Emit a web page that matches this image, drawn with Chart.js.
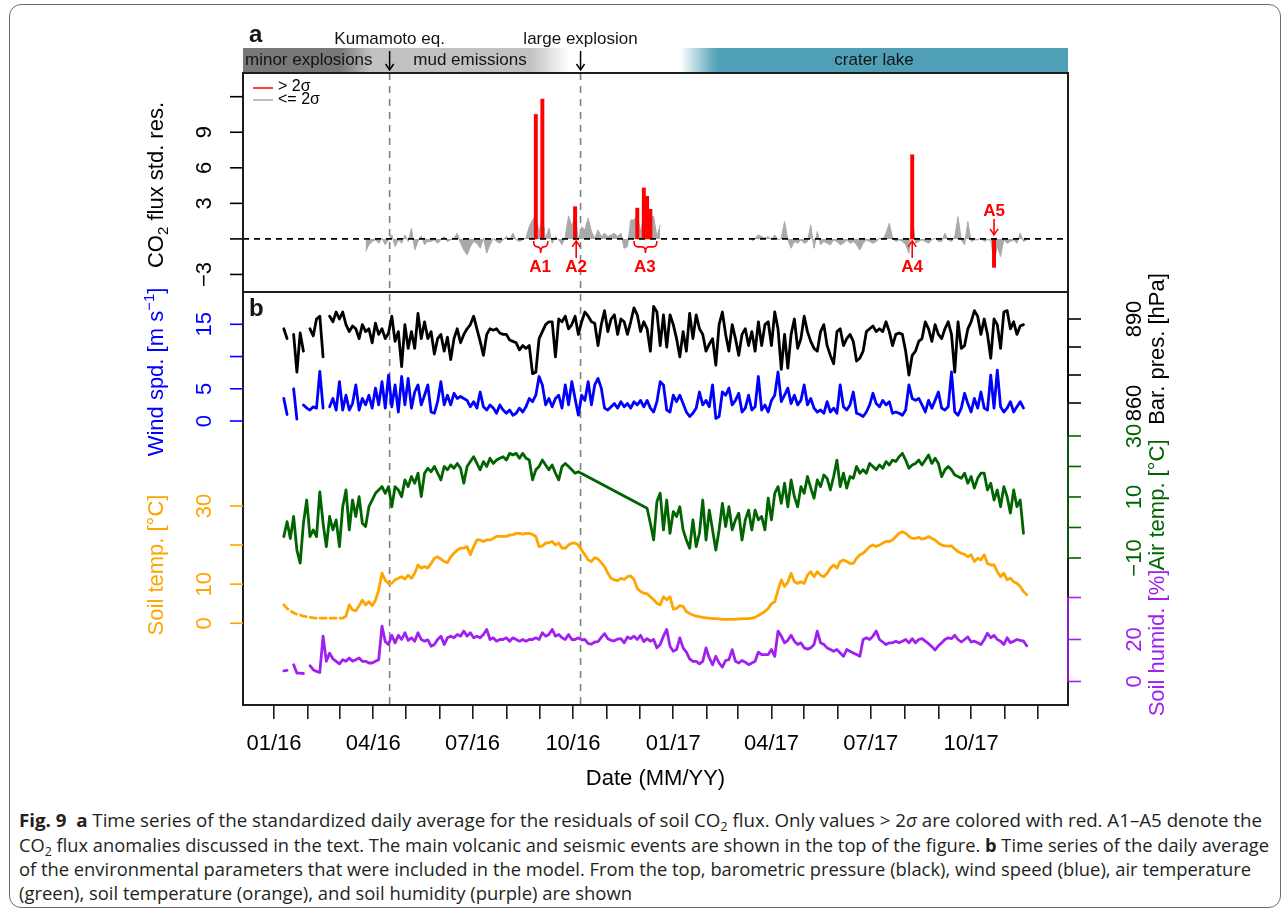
<!DOCTYPE html>
<html>
<head>
<meta charset="utf-8">
<script src="https://cdn.jsdelivr.net/npm/chart.js@4.4.1/dist/chart.umd.min.js"></script>
<style>
  html, body { margin: 0; padding: 0; background: #fff; }
  body { width: 1284px; height: 915px; position: relative; overflow: hidden; }
  #frame { position: absolute; left: 9px; top: 4px; width: 1272px; height: 904px; border: 1.3px solid #6e6e6e; border-radius: 12px; box-sizing: border-box; }
  #chart { position: absolute; left: 0; top: 0; }
  .cap { position: absolute; left: 19px; font-family: 'Open Sans', 'Noto Sans', sans-serif; font-size: 17.5px; color: #231f20; white-space: nowrap; transform-origin: 0 0; line-height: 1; }
  .cap b { font-weight: 700; }
  .cap sub { font-size: 0.68em; vertical-align: -0.3em; line-height: 0; }
</style>
</head>
<body>
<div id="frame"></div>
<canvas id="chart" width="1284" height="800"></canvas>
<div class="cap" data-w="1243" style="top:812px"><b>Fig. 9</b>&nbsp; <b>a</b> Time series of the standardized daily average for the residuals of soil CO<sub>2</sub> flux. Only values &gt; 2<i>σ</i> are colored with red. A1–A5 denote the</div>
<div class="cap" data-w="1250" style="top:837px">CO<sub>2</sub> flux anomalies discussed in the text. The main volcanic and seismic events are shown in the top of the figure. <b>b</b> Time series of the daily average</div>
<div class="cap" data-w="1232" style="top:861px">of the environmental parameters that were included in the model. From the top, barometric pressure (black), wind speed (blue), air temperature</div>
<div class="cap" data-w="613" style="top:885px">(green), soil temperature (orange), and soil humidity (purple) are shown</div>
<script>
// x values are days since 2016-01-01, one sample every STEP days
const STEP = 3;

const monthTicks = [0, 31, 60, 91, 121, 152, 182, 213, 244, 274, 305, 335, 366, 397, 425, 456, 486, 517, 547, 578, 609, 639, 670, 700];
const monthLabels = ['01/16', '', '', '04/16', '', '', '07/16', '', '', '10/16', '', '', '01/17', '', '', '04/17', '', '', '07/17', '', '', '10/17', '', ''];

const kumamotoDay = 106;   // 2016-04-16
const explosionDay = 281;  // 2016-10-08
const phaseDays = [61, 88, 235, 270];  // minor explosions -> mud emissions -> fade out
const lakeDays = [372, 406];           // crater lake fades in

// standardized residuals of soil CO2 flux
const co2Start = 84;
const co2Res = [
  -1.07, -0.5, -0.22, -0.08, -0.37, 0.06, -0.5, -0.08, 0.34, -0.65,
  -0.08, -0.37, 0.34, -0.22, 0.9, -0.93, -0.22, 0.25, -0.5, -0.22,
  -0.22, -0.08, -0.37, -0.08, 0.2, -0.22, -0.08, 0.06, 0.48, -0.37,
  -0.93, -1.35, -0.65, -0.22, -0.37, -0.79, 0.06, -1.2, -0.5, 0.06,
  -0.22, -0.37, -0.08, 0.2, -0.08, 0.48, -0.08, -0.22, -0.08, 0.06,
  1.04, 1.6, 10.5, 0.5, 11.8, -0.08, 0.9, -0.37, 0.2, -0.08,
  -0.5, 0.2, 1.95, 1.04, 2.72, -0.08, 1.04, 0.76, 1.74, 0.62,
  0.06, 0.76, 0.2, 0.48, 0.2, 0.34, 0.48, 0.2, 0.48, -0.79,
  -0.65, 1.6, 1.6, 2.6, 0.62, 4.3, 3.6, 2.5, 1.88, 0.2,
  1.18,
  null, null, null, null, null, null, null, null, null, null,
  null, null, null, null, null, null, null, null, null, null,
  null, null, null, null, null, null, null,
  -0.22, 0.06, 0.34, 0.2, 0.06, 0.2, -0.08, 0.34, -0.08, 0.06,
  1.46, -0.08, -0.79, -0.22, -0.37, -0.08, -0.37, -0.22, 1.18, -0.79,
  0.62, -0.5, -0.22, -0.37, -0.5, -0.08, -0.22, -0.5, -0.37, -0.08,
  -0.37, -0.22, -0.5, -0.93, -0.37, -0.08, -0.22, -0.37, -0.22, 0.06,
  -0.08, 0.48, 1.32, 0.06, -0.22, -0.08, -0.22, -0.5, -1.2, 7.1,
  -0.37, -0.22, -0.08, -0.22, -0.37, -0.08, 0.06, -0.22, -0.22, 0.48,
  -0.08, -0.22, 0.2, 1.88, -0.08, -0.5, 1.46, -0.22, -0.08, -0.08,
  0.06, -0.22, -0.08, -0.08, -2.4, -0.65, -1.49, -0.08, -0.37, -0.22,
  -0.08, -0.37, 0.48, -0.22, -0.08
];
const SIGMA2 = 2;

// barometric pressure [hPa]
const presStart = 9;
const presVals = [
  886.5, 883, null, 884.5, 871, 885, 878.5, null, 886.5, 884, 890, 891, 876.5, null,
  891, 889, 892.5, 890, 892.5, 888, 885.5, 887.5, 886.5, 883,
  888, 885.5, 886.5, 881.5, 888.5, 884.5, 886.5, 883, 885, 891,
  882, 885.5, 873, 888, 879.5, 885.5, 879.5, 892, 883, 889,
  883, 885.5, 877.5, 883, 884.5, 878.5, 883.5, 875.5, 883, 886.5,
  881.5, 884.5, 886.5, 888, 891, 886.5, 882, 877, 884.5, 886.5,
  886, 886.5, 885, 884.5, 884.5, 882.5, 882, 881.5, 879, 880.5,
  879.5, 880.5, 870.5, 871, 883, 885.5, 888, 889, 889, 876.5,
  890, 889, 891, 886.5, 888, 891,
  884.5, 889, 892.5, 891, 889, 888.5, 880.5, 888, 893, 885.5,
  890, 891.5, 884.5, 890, 889, 884.5, 889, 894, 891.5, 885.5,
  889, 886.5, 878.5, 894.5, 892.5, 880.5, 891.5, 880, 891.5, 888,
  883, 876.5, 885.5, 878.5, 892, 883, 891.5, 886.5, 884.5, 878.5, 881,
  883, 873.5, 888, 892.5, 884.5, 878.5, 888, 883, 877, 884.5,
  886.5, 880.5, 885.5, 878.5, 889, 880.5, 888, 889, 880.5, 892.5,
  886.5, 872, 884.5, 872.5, 884.5, 890, 879.5, 883, 891, 885.5,
  882, 879.5, 878.5, 885.5, 888, 880.5, 877, 874, 885.5, 886.5,
  880.5, 883, 884.5, 882, 875, 876, 878.5, 885.5, 886.5, 887.5, 885.5,
  886.5, 885.5, 889, 885.5, 880.5, 884.5, 885, 884.5, 878.5, 870,
  877, 878.5, 882, 883, 889, 886.5, 882, 888, 884.5, 883,
  886.5, 889, 884.5, 871, 889, 879.5, 880.5, 886.5, 889, 893,
  891, 884.5, 890, 884.5, 876, 890, 888, 879.5, 892.5, 893,
  886.5, 889, 884.5, 887.5, 888
];

// wind speed [m/s]
const windStart = 9;
const windVals = [
  3.5, 1.0, null, 5.0, 0.3, null, 2.5, 2.0, 1.7, 2.2, 2.0, 7.7, 2.0, null,
  2.2, 3.5, 1.7, 6.1, 1.7, 4.0, 1.7, 2.7, 5.6, 1.7,
  3.5, 2.5, 4.0, 2.0, 5.1, 2.5, 6.1, 2.0, 7.1, 2.2,
  5.6, 1.4, 6.9, 2.5, 6.6, 2.0, 4.5, 5.6, 2.5, 4.0,
  5.6, 1.4, 1.2, 3.0, 6.1, 2.5, 4.0, 2.5, 4.3, 3.5,
  3.8, 3.5, 3.2, 2.2, 3.0, 2.0, 4.5, 2.2, 1.7, 2.5,
  2.0, 1.2, 2.5, 1.7, 1.2, 1.7, 0.9, 1.2, 2.0, 1.4,
  2.2, 3.5, 3.0, 4.0, 6.9, 5.6, 2.5, 3.5, 2.2, 3.5,
  4.0, 2.0, 5.6, 2.5, 6.1, 3.5,
  0.9, 4.0, 3.2, 6.1, 2.5, 5.6, 6.6, 5.1, 2.0, 1.7,
  2.2, 2.7, 2.0, 3.0, 2.2, 2.7, 2.0, 3.0, 2.5, 3.2,
  2.2, 3.2, 2.0, 1.4, 3.0, 6.1, 5.6, 1.7, 1.4, 4.0,
  3.0, 4.0, 2.7, 1.4, 0.7, 1.2, 2.0, 4.5, 2.5, 3.2, 2.2,
  5.6, 0.4, 0.7, 4.5, 4.0, 5.1, 2.5, 3.2, 4.3, 1.4,
  2.0, 4.0, 1.7, 2.2, 6.9, 1.7, 2.5, 1.4, 3.2, 4.0,
  7.6, 3.0, 4.0, 5.1, 2.7, 4.0, 2.5, 3.2, 5.6, 2.5,
  3.5, 2.0, 1.4, 1.7, 1.2, 3.0, 1.4, 2.0, 1.2, 5.6,
  2.2, 1.7, 2.5, 4.5, 1.2, 1.0, 0.7, 1.4, 2.5, 4.3, 2.7,
  2.2, 3.2, 2.5, 3.0, 1.2, 1.4, 1.2, 0.9, 1.7, 5.6,
  3.5, 3.2, 3.5, 2.5, 1.4, 3.2, 2.0, 3.2, 4.5, 2.0,
  1.7, 2.2, 7.6, 1.4, 0.9, 2.0, 4.3, 2.7, 1.4, 3.5,
  2.0, 4.5, 2.0, 1.7, 7.1, 2.0, 7.9, 2.2, 1.4, 2.0,
  3.0, 1.4, 2.2, 3.0, 2.0
];

// air temperature [°C]; no record between Oct and Dec 2016
const airStart = 9;
const airVals = [
  -3.0, 1.9, -3.6, 3.6, -7.4, -11.7, 1.4, 9.0, -3.0, -0.8,
  -3.0, 11.7, 1.4, -6.3, 3.6, -0.8, 2.5, -6.3, 6.8, 12.3,
  -0.8, 9.0, 3.6, 10.1, 1.4, 0.3, 6.8, 9.0, 11.2, 12.3,
  13.4, 11.2, 13.4, 6.8, 13.4, 12.3, 10.1, 15.6, 13.4, 16.7,
  14.5, 17.8, 10.1, 17.8, 19.4, 18.3, 20.0, 17.8, 15.6, 20.0,
  18.9, 20.5, 19.4, 21.0, 19.4, 14.5, 20.0, 21.6, 23.2, 21.0,
  18.9, 21.6, 20.0, 22.7, 21.0, 22.1, 22.7, 23.2, 22.1, 24.3,
  23.8, 24.3, 22.7, 24.3, 22.7, 22.1, 15.6, 18.9, 20.0, 22.1,
  20.5, 18.9, 20.5, 17.8, 15.6, 20.0, 21.0, 20.0, 18.9, 17.8,
  18.3,
  null, null, null, null, null, null, null, null, null, null,
  null, null, null, null, null, null, null, null, null, null,
  6.3, 1.4, -4.1, 8.5, 11.2, -0.8, 9.0, -1.9, 5.2, 3.6,
  6.8, -0.8, -4.1, -6.8, 2.5, -6.3, -1.9, 9.0, -4.1, 5.7,
  -0.8, -7.4, -0.8, 7.9, 0.3, 6.8, -0.8, 2.5, 4.7, -4.1,
  2.5, 5.7, -0.8, 5.7, 2.5, 3.6, -0.8, 9.6, 2.5, 11.2,
  13.4, 7.9, 14.5, 6.8, 15.6, 10.1, 6.8, 13.4, 11.2, 16.7, 13.0,
  9.6, 15.6, 13.4, 17.2, 16.1, 12.3, 16.7, 22.1, 13.4, 17.8,
  12.9, 16.7, 16.1, 20.0, 17.8, 18.9, 17.8, 21.0, 20.0, 18.9,
  20.5, 19.4, 21.6, 20.5, 22.1, 21.6, 23.2, 24.3, 22.1, 19.4, 20.5,
  21.0, 22.1, 20.5, 22.1, 23.8, 21.0, 22.7, 21.0, 16.7, 18.9,
  20.0, 18.9, 17.2, 16.7, 16.1, 17.8, 14.5, 16.7, 12.9, 16.1,
  17.8, 17.8, 12.3, 14.5, 9.0, 12.3, 6.8, 13.4, 10.1, 4.7,
  12.3, 6.8, 9.0, -1.9
];

// soil temperature [°C]
const soilStart = 9;
const soilVals = [
  4.7, 3.8, 3.2, 2.7, 2.3, 2.1, 1.8, 1.7, 1.5, 1.4,
  1.3, 1.3, 1.3, 1.3, 1.3, 1.3, 1.3, 1.3, 1.3, 1.8,
  4.7, 3.4, 3.2, 4.5, 5.9, 4.7, 5.5, 4.5, 5.9, 8.5,
  12.8, 11.0, 10.2, 10.2, 11.1, 11.5, 11.9, 11.3, 12.3, 11.5,
  12.8, 14.9, 14.1, 14.5, 14.1, 15.3, 16.6, 17.0, 16.4, 15.8,
  15.5, 17.0, 17.9, 18.7, 19.2, 19.2, 19.6, 17.5, 19.6, 21.3,
  21.3, 20.9, 21.3, 21.3, 21.7, 22.2, 22.2, 22.2, 22.2, 22.6,
  22.6, 23.0, 23.0, 22.8, 23.0, 23.0, 22.7, 22.2, 19.6, 19.8,
  20.5, 20.6, 20.9, 20.0, 20.5, 19.2, 19.2, 20.0, 20.5, 20.5,
  20.0,
  18.7, 17.5, 16.2, 15.8, 16.8, 16.4, 15.5, 14.5, 12.8, 11.5,
  11.1, 10.9, 11.5, 11.2, 11.9, 12.1, 11.2, 8.9, 8.1, 7.7,
  7.5, 6.8, 6.0, 5.1, 4.7, 6.8, 6.0, 6.8, 3.6, 3.8,
  4.5, 4.3, 3.0, 2.5, 2.1, 1.8, 1.7, 1.5, 1.4, 1.3,
  1.2, 1.2, 1.1, 1.0, 1.0, 1.0, 1.0, 1.0, 1.1, 1.1,
  1.2, 1.2, 1.3, 1.5, 2.0, 2.5, 3.0, 3.8, 5.0, 5.5,
  8.5, 11.1, 9.4, 10.5, 12.8, 10.6, 10.2, 10.6, 10.2, 12.3,
  13.2, 11.9, 13.2, 12.3, 11.9, 12.8, 14.1, 14.9, 14.1, 15.8,
  16.2, 15.8, 15.3, 15.3, 16.6, 17.5, 17.9, 18.7, 19.6, 20.0,
  19.6, 20.0, 20.5, 20.9, 20.9, 21.3, 22.2, 23.0, 23.4, 23.0,
  22.2, 21.7, 21.7, 22.0, 21.5, 21.7, 22.2, 21.7, 21.3, 20.5,
  20.0, 19.8, 19.7, 19.8, 19.0, 18.3, 17.9, 17.6, 17.0, 17.5,
  15.8, 16.6, 16.2, 17.5, 15.3, 14.9, 14.9, 13.2, 11.9, 12.8,
  11.1, 11.5, 10.6, 10.2, 9.4, 8.1, 7.3
];

// soil humidity [%]
const humStart = 9;
const humVals = [
  5.1, 5.3, null, 8.0, 4.0, 4.0, 3.8, null, 7.5, 5.6,
  4.8, 4.3, 21.6, 9.6, 13.5, 10.8, 9.6, 8.4, 10.4, 9.6,
  11.2, 9.6, 10.4, 11.2, 9.6, 9.6, 8.8, 8.8, 9.6, 10.4,
  26.4, 19.0, 17.6, 22.0, 18.4, 22.0, 20.0, 23.2, 19.6, 20.8,
  19.2, 23.2, 20.0, 19.2, 19.8, 16.8, 17.6, 20.0, 21.6, 17.6,
  20.8, 21.6, 20.8, 22.4, 21.6, 24.0, 21.6, 23.2, 20.8, 21.6,
  20.8, 22.4, 24.8, 20.0, 20.8, 19.2, 20.0, 20.0, 20.8, 19.2,
  20.8, 20.0, 19.2, 20.0, 19.2, 20.0, 20.0, 20.8, 20.0, 23.2,
  21.6, 22.4, 24.8, 21.6, 22.4, 20.8, 20.0, 22.4, 20.0, 20.0,
  20.8,
  19.8, 20.0, 18.0, 17.8, 18.8, 19.0, 21.0, 22.8, 20.4, 19.6,
  19.4, 20.2, 20.4, 18.4, 21.2, 20.4, 21.6, 20.0, 22.0, 19.0,
  20.4, 19.2, 20.0, 16.0, 17.6, 21.6, 24.8, 16.8, 14.4, 15.2,
  20.8, 16.0, 14.0, 10.8, 9.6, 9.6, 8.4, 9.6, 16.0, 11.2,
  8.0, 12.0, 8.8, 6.8, 10.0, 10.4, 15.2, 9.6, 8.8, 10.0,
  9.2, 8.0, 8.8, 9.6, 14.0, 12.8, 12.8, 12.8, 15.2, 12.0,
  24.0, 21.6, 18.4, 19.6, 22.0, 19.2, 17.6, 18.4, 16.0, 15.4,
  16.0, 17.6, 24.0, 18.4, 17.6, 16.0, 15.2, 14.4, 15.2, 13.6,
  12.0, 15.2, 14.4, 13.6, 12.8, 12.0, 20.0, 20.8, 20.0, 21.6,
  24.0, 20.0, 18.8, 17.6, 18.4, 18.4, 19.2, 18.4, 19.2, 20.0,
  18.4, 20.4, 18.4, 20.0, 20.4, 19.2, 18.0, 16.6, 15.0, 17.0,
  18.4, 20.0, 20.8, 20.4, 22.0, 20.0, 18.8, 20.0, 21.2, 18.8,
  19.2, 18.4, 17.6, 20.0, 23.0, 20.8, 22.0, 20.0, 19.2, 17.6,
  20.8, 18.4, 19.2, 20.0, 19.6, 19.2, 17.0
];

// axis ticks; empty label = tick without text
const resTicks = [-3, 0, 3, 6, 9, 12];
const resLabels = ['−3', '', '3', '6', '9', ''];
const presTicks = [860, 870, 880, 890];
const presLabels = ['860', '', '', '890'];
const windTicks = [0, 5, 10, 15];
const windLabels = ['0', '5', '', '15'];
const airTicks = [-10, 0, 10, 20, 30];
const airLabels = ['−10', '', '10', '', '30'];
const soilTicks = [0, 10, 20, 30];
const soilLabels = ['0', '10', '', '30'];
const humTicks = [0, 20, 40];
const humLabels = ['0', '20', ''];

const FONT = '"Liberation Sans", Arial, Helvetica, sans-serif';
const C = { pres: '#000000', wind: '#0000ff', air: '#006400', soil: '#ffa500', hum: '#a020f0', red: '#ff0000', gray: '#a9a9a9' };

function series(start, vals) {
  return vals.map((v, i) => ({ x: start + i * STEP, y: v }));
}

// grey polygon is the residual held inside ±2σ, red columns are the exceedances
const co2Gray = series(co2Start, co2Res.map(v => v === null ? null : Math.max(-SIGMA2, Math.min(SIGMA2, v))));
const co2Red = series(co2Start, co2Res.map(v => (v !== null && Math.abs(v) > SIGMA2) ? v : null));

function lineSet(data, color, axis, extra) {
  return Object.assign({
    type: 'line', data, yAxisID: axis, borderColor: color, borderWidth: 2.8,
    pointRadius: 0, tension: 0, spanGaps: false, borderJoinStyle: 'round', borderCapStyle: 'round'
  }, extra || {});
}

// text drawn along a vertical baseline at x, centred on y, reading upwards
function vtext(ctx, parts, x, y, color) {
  ctx.save();
  ctx.translate(x, y);
  ctx.rotate(-Math.PI / 2);
  ctx.fillStyle = color;
  ctx.textBaseline = 'alphabetic';
  ctx.textAlign = 'left';
  let total = 0;
  parts.forEach(p => { ctx.font = `${p.size}px ${FONT}`; p.w = ctx.measureText(p.t).width; total += p.w; });
  let cx = -total / 2;
  parts.forEach(p => { ctx.font = `${p.size}px ${FONT}`; ctx.fillText(p.t, cx, p.dy || 0); cx += p.w; });
  ctx.restore();
}

function seg(ctx, x1, y1, x2, y2) {
  ctx.beginPath(); ctx.moveTo(x1, y1); ctx.lineTo(x2, y2); ctx.stroke();
}

function arrow(ctx, x, yTail, yHead, color) {
  ctx.strokeStyle = color;
  seg(ctx, x, yTail, x, yHead);
  const d = yHead > yTail ? -1 : 1;
  ctx.beginPath();
  ctx.moveTo(x - 4, yHead + d * 6); ctx.lineTo(x, yHead); ctx.lineTo(x + 4, yHead + d * 6);
  ctx.stroke();
}

function brace(ctx, x1, x2, y, color) {
  const cx = (x1 + x2) / 2;
  ctx.strokeStyle = color;
  ctx.beginPath();
  ctx.moveTo(x1, y);
  ctx.quadraticCurveTo(x1, y + 6, x1 + 4, y + 6);
  ctx.lineTo(cx - 3, y + 6);
  ctx.quadraticCurveTo(cx, y + 6, cx, y + 12);
  ctx.quadraticCurveTo(cx, y + 6, cx + 3, y + 6);
  ctx.lineTo(x2 - 4, y + 6);
  ctx.quadraticCurveTo(x2, y + 6, x2, y);
  ctx.stroke();
}

function drawAxis(chart, id, ticks, labels, side, color, axisLine) {
  const { ctx, chartArea: a } = chart;
  const s = chart.scales[id];
  const x0 = side === 'left' ? a.left : a.right;
  const dir = side === 'left' ? -1 : 1;
  ctx.save();
  ctx.strokeStyle = color;
  ctx.lineWidth = 1.6;
  if (axisLine) seg(ctx, x0, s.getPixelForValue(ticks[0]), x0, s.getPixelForValue(ticks[ticks.length - 1]));
  ticks.forEach((v, i) => {
    const y = s.getPixelForValue(v);
    seg(ctx, x0, y, x0 + dir * 13, y);
    if (labels[i]) vtext(ctx, [{ t: labels[i], size: 22 }], side === 'left' ? x0 - 32 : x0 + 73, y, color);
  });
  ctx.restore();
}

const decorPlugin = {
  id: 'decor',
  beforeDatasetsDraw(chart) {
    const { ctx, chartArea: a, scales: { x } } = chart;
    ctx.save();
    // activity phases above panel a
    const bandTop = 48, bandH = 24;
    const xe = x.getPixelForValue(phaseDays[3]);
    const span = xe - a.left;
    const g = ctx.createLinearGradient(a.left, 0, xe, 0);
    g.addColorStop(0, '#787878');
    g.addColorStop((x.getPixelForValue(phaseDays[0]) - a.left) / span, '#787878');
    g.addColorStop((x.getPixelForValue(phaseDays[1]) - a.left) / span, '#c1c1c1');
    g.addColorStop((x.getPixelForValue(phaseDays[2]) - a.left) / span, '#c1c1c1');
    g.addColorStop(1, '#ffffff');
    ctx.fillStyle = g;
    ctx.fillRect(a.left, bandTop, span, bandH);

    const l0 = x.getPixelForValue(lakeDays[0]), l1 = x.getPixelForValue(lakeDays[1]);
    const g2 = ctx.createLinearGradient(l0, 0, l1, 0);
    g2.addColorStop(0, 'rgba(79,160,182,0)');
    g2.addColorStop(1, 'rgba(79,160,182,1)');
    ctx.fillStyle = g2;
    ctx.fillRect(l0, bandTop, l1 - l0, bandH);
    ctx.fillStyle = '#4fa0b6';
    ctx.fillRect(l1, bandTop, a.right - l1, bandH);

    // event lines through both panels
    ctx.strokeStyle = '#808080';
    ctx.lineWidth = 1.6;
    ctx.setLineDash([7, 6]);
    [kumamotoDay, explosionDay].forEach(d => {
      const px = x.getPixelForValue(d);
      seg(ctx, px, a.top, px, a.bottom);
    });
    ctx.restore();
  },
  afterDatasetsDraw(chart) {
    const { ctx, chartArea: a, scales } = chart;
    const x = scales.x, yr = scales.yRes;
    const y0 = yr.getPixelForValue(0);
    const yMid = 292;
    ctx.save();

    // zero line of panel a
    ctx.strokeStyle = '#000';
    ctx.lineWidth = 1.6;
    ctx.setLineDash([6, 5]);
    seg(ctx, a.left, y0, a.right, y0);
    ctx.setLineDash([]);

    // panel boxes
    ctx.strokeStyle = '#1e1e1e';
    ctx.lineWidth = 2;
    ctx.strokeRect(a.left, a.top, a.right - a.left, a.bottom - a.top);
    seg(ctx, a.left, yMid, a.right, yMid);

    // phase and event labels
    ctx.fillStyle = '#141414';
    ctx.font = `17px ${FONT}`;
    ctx.textBaseline = 'middle';
    ctx.textAlign = 'left';
    ctx.fillText('minor explosions', a.left + 2, 60);
    ctx.textAlign = 'center';
    ctx.fillText('mud emissions', 470, 60);
    ctx.fillText('crater lake', 874, 60);
    ctx.fillText('Kumamoto eq.', x.getPixelForValue(kumamotoDay), 39);
    ctx.fillText('large explosion', x.getPixelForValue(explosionDay), 39);
    ctx.lineWidth = 1.5;
    arrow(ctx, x.getPixelForValue(kumamotoDay), 51, 70, '#000');
    arrow(ctx, x.getPixelForValue(explosionDay), 51, 70, '#000');

    // panel letters
    ctx.font = `bold 24px ${FONT}`;
    ctx.textAlign = 'left';
    ctx.textBaseline = 'alphabetic';
    ctx.fillText('a', 249, 42);
    ctx.fillText('b', 249, 316);

    // legend of panel a
    ctx.lineWidth = 1.5;
    ctx.strokeStyle = C.red;
    seg(ctx, 253, 88, 273, 88);
    ctx.strokeStyle = C.gray;
    seg(ctx, 253, 100, 273, 100);
    ctx.fillStyle = '#000';
    ctx.font = `16px ${FONT}`;
    ctx.textBaseline = 'middle';
    ctx.fillText('> 2σ', 278, 87);
    ctx.fillText('<= 2σ', 278, 100);

    // anomaly markers
    ctx.strokeStyle = C.red;
    ctx.fillStyle = C.red;
    ctx.lineWidth = 1.6;
    ctx.font = `bold 17px ${FONT}`;
    ctx.textAlign = 'center';
    brace(ctx, x.getPixelForValue(238), x.getPixelForValue(251), y0 + 2, C.red);
    brace(ctx, x.getPixelForValue(330), x.getPixelForValue(351), y0 + 2, C.red);
    arrow(ctx, x.getPixelForValue(277), y0 + 19, y0 + 2, C.red);
    arrow(ctx, x.getPixelForValue(585), y0 + 19, y0 + 2, C.red);
    arrow(ctx, x.getPixelForValue(660), y0 - 20, y0 - 4, C.red);
    ctx.fillText('A1', x.getPixelForValue(244), y0 + 28);
    ctx.fillText('A2', x.getPixelForValue(277), y0 + 28);
    ctx.fillText('A3', x.getPixelForValue(340), y0 + 28);
    ctx.fillText('A4', x.getPixelForValue(585), y0 + 28);
    ctx.fillText('A5', x.getPixelForValue(660), y0 - 28);
    ctx.restore();

    // y axes
    drawAxis(chart, 'yRes', resTicks, resLabels, 'left', '#000', false);
    drawAxis(chart, 'yWind', windTicks, windLabels, 'left', C.wind, false);
    drawAxis(chart, 'ySoil', soilTicks, soilLabels, 'left', C.soil, false);
    drawAxis(chart, 'yPres', presTicks, presLabels, 'right', C.pres, true);
    drawAxis(chart, 'yAir', airTicks, airLabels, 'right', C.air, true);
    drawAxis(chart, 'yHum', humTicks, humLabels, 'right', C.hum, true);

    // axis titles
    vtext(ctx, [{ t: 'CO', size: 22 }, { t: '2', size: 15, dy: 5 }, { t: ' flux std. res.', size: 22 }], 163, 185, '#000');
    vtext(ctx, [{ t: 'Wind spd. [m s', size: 22 }, { t: '−1', size: 15, dy: -9 }, { t: ']', size: 22 }], 163, 372, C.wind);
    vtext(ctx, [{ t: 'Soil temp. [°C]', size: 22 }], 163, 565, C.soil);
    vtext(ctx, [{ t: 'Bar. pres. [hPa]', size: 22 }], 1164, 349, C.pres);
    vtext(ctx, [{ t: 'Air temp. [°C]', size: 22 }], 1164, 505, C.air);
    vtext(ctx, [{ t: 'Soil humid. [%]', size: 22 }], 1164, 643, C.hum);
  }
};

new Chart(document.getElementById('chart'), {
  type: 'bar',
  data: {
    datasets: [
      { type: 'bar', data: co2Red, yAxisID: 'yRes', backgroundColor: C.red, barPercentage: 1, categoryPercentage: 1, grouped: false, order: 0 },
      {
        type: 'line', data: co2Gray, yAxisID: 'yRes', fill: 'origin', backgroundColor: C.gray,
        borderColor: C.gray, borderWidth: 1, pointRadius: 0, tension: 0, spanGaps: false, order: 1
      },
      lineSet(series(presStart, presVals), C.pres, 'yPres'),
      lineSet(series(windStart, windVals), C.wind, 'yWind'),
      lineSet(series(airStart, airVals), C.air, 'yAir', { spanGaps: true }),
      lineSet(series(soilStart, soilVals), C.soil, 'ySoil', {
        segment: { borderDash: ctx => ctx.p0.parsed.x < 66 ? [6, 4] : undefined }
      }),
      lineSet(series(humStart, humVals), C.hum, 'yHum')
    ]
  },
  options: {
    responsive: false,
    animation: false,
    devicePixelRatio: 1,
    layout: { padding: { left: 243, right: 216, top: 73, bottom: 8 } },
    plugins: { legend: { display: false }, tooltip: { enabled: false } },
    scales: {
      x: {
        type: 'linear', min: -28.4, max: 727.8, offset: false,
        afterBuildTicks: s => { s.ticks = monthTicks.map(v => ({ value: v })); },
        afterFit: s => { s.height = 87; },
        ticks: {
          autoSkip: false, maxRotation: 0, minRotation: 0, padding: 12, color: '#000',
          font: { family: FONT, size: 22 },
          callback: (v, i) => monthLabels[i]
        },
        grid: { offset: false, drawOnChartArea: false, drawTicks: true, tickLength: 14, color: '#1e1e1e', lineWidth: 1.6 },
        border: { display: false },
        title: { display: true, text: 'Date (MM/YY)', color: '#000', font: { family: FONT, size: 22 }, padding: 0 }
      },
      yRes: { type: 'linear', display: false, min: -39.33, max: 14.0 },
      yPres: { type: 'linear', display: false, min: 752.14, max: 977.86 },
      yWind: { type: 'linear', display: false, min: -44.05, max: 53.98 },
      yAir: { type: 'linear', display: false, min: -58.2, max: 149.0 },
      ySoil: { type: 'linear', display: false, min: -20.9, max: 140.7 },
      yHum: { type: 'linear', display: false, min: -11.2, max: 289.8 }
    }
  },
  plugins: [decorPlugin]
});

// squeeze each caption line to its printed width
document.fonts.ready.then(() => {
  document.querySelectorAll('.cap').forEach(el => {
    const w = el.getBoundingClientRect().width;
    el.style.transform = `scaleX(${(+el.dataset.w) / w})`;
  });
});
</script>
</body>
</html>
